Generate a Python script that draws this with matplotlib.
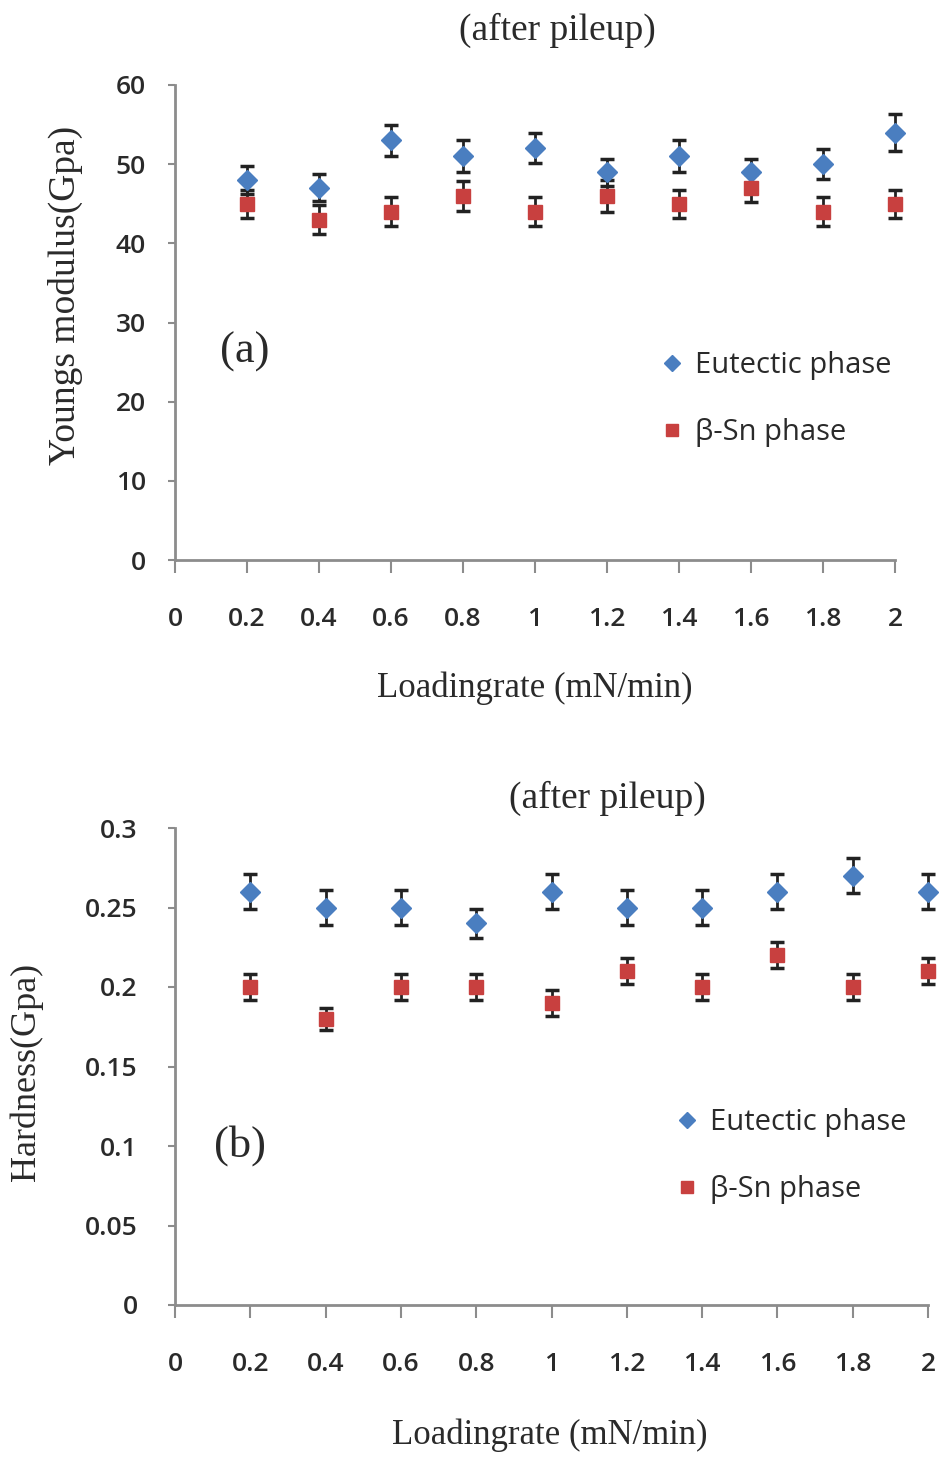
import matplotlib
matplotlib.use("Agg")
import matplotlib.pyplot as plt

# loading rate (mN/min)
rate = [0.2, 0.4, 0.6, 0.8, 1.0, 1.2, 1.4, 1.6, 1.8, 2.0]
xticks = [0, 0.2, 0.4, 0.6, 0.8, 1, 1.2, 1.4, 1.6, 1.8, 2]
xtick_labels = ["0", "0.2", "0.4", "0.6", "0.8", "1", "1.2", "1.4", "1.6", "1.8", "2"]

# (a) Young's modulus, GPa
modulus_eutectic = [48, 47, 53, 51, 52, 49, 51, 49, 50, 54]
modulus_eutectic_err = [1.8, 1.7, 2.0, 2.0, 1.9, 1.7, 2.0, 1.7, 1.9, 2.3]
modulus_sn = [45, 43, 44, 46, 44, 46, 45, 47, 44, 45]
modulus_sn_err = [1.8, 1.8, 1.8, 1.9, 1.8, 2.0, 1.8, 1.8, 1.8, 1.8]

# (b) hardness, GPa
hardness_eutectic = [0.26, 0.25, 0.25, 0.24, 0.26, 0.25, 0.25, 0.26, 0.27, 0.26]
hardness_eutectic_err = [0.011, 0.011, 0.011, 0.009, 0.011, 0.011, 0.011, 0.011, 0.011, 0.011]
hardness_sn = [0.20, 0.18, 0.20, 0.20, 0.19, 0.21, 0.20, 0.22, 0.20, 0.21]
hardness_sn_err = [0.008, 0.007, 0.008, 0.008, 0.008, 0.008, 0.008, 0.008, 0.008, 0.008]

BLUE = "#4a7ec0"
RED = "#c8403f"
GREY = "#8c8c8c"
SERIF = "Liberation Serif"
SANS = "Open Sans"
TXT = "#2a2a2a"

W, H = 942, 1458
fig = plt.figure(figsize=(W / 100, H / 100), dpi=100)


def style_axis(ax, ymax, ystep, yfmt, ypad):
    for side in ("top", "right"):
        ax.spines[side].set_visible(False)
    for side in ("left", "bottom"):
        ax.spines[side].set_color(GREY)
        ax.spines[side].set_linewidth(2)
    ax.set_xlim(0, 2)
    ax.set_ylim(0, ymax)
    ax.set_xticks(xticks)
    ax.set_xticklabels(xtick_labels, family=SANS, fontsize=19, weight="semibold", color=TXT)
    yt = [i * ystep for i in range(int(round(ymax / ystep)) + 1)]
    ax.set_yticks(yt)
    ax.set_yticklabels([yfmt(v) for v in yt], family=SANS, fontsize=19, weight="semibold", color=TXT)
    ax.tick_params(axis="x", direction="out", length=9, width=1.5, color=GREY, pad=25)
    ax.tick_params(axis="y", direction="out", length=5, width=1.5, color=GREY, pad=ypad)


def draw_panel(ax, eu, eu_err, sn, sn_err):
    ax.errorbar(rate, eu, yerr=eu_err, fmt="D", color=BLUE, ms=10, mec=BLUE,
                ecolor="#222222", elinewidth=2, capsize=5, capthick=2.5,
                label="Eutectic phase", clip_on=False, zorder=3)
    ax.errorbar(rate, sn, yerr=sn_err, fmt="s", color=RED, ms=10, mec=RED,
                ecolor="#222222", elinewidth=2, capsize=5, capthick=2.5,
                label="β-Sn phase", clip_on=False, zorder=3)


def add_legend(ax, x, y):
    h, l = ax.get_legend_handles_labels()
    ax.legend([e[0] for e in h], l, loc="center left", bbox_to_anchor=(x, y),
              frameon=False, prop={"family": SANS, "size": 21}, labelcolor=TXT,
              borderpad=0, borderaxespad=0, handletextpad=0.3, handlelength=1.0,
              labelspacing=1.3, markerscale=0.8)


# ---- (a) ----
ax1 = fig.add_axes([175 / W, 1 - 560 / H, 720 / W, 475 / H])
draw_panel(ax1, modulus_eutectic, modulus_eutectic_err, modulus_sn, modulus_sn_err)
style_axis(ax1, 60, 10, lambda v: f"{v:g}", 16)
fig.text(535 / W, 1 - 688 / H, "Loadingrate (mN/min)", family=SERIF, fontsize=25,
         color=TXT, ha="center", va="center")
fig.text(65 / W, 1 - 295 / H, "Youngs modulus(Gpa)", family=SERIF, fontsize=27,
         color=TXT, ha="center", va="center", rotation=90)
fig.text(557 / W, 1 - 30 / H, "(after pileup)", family=SERIF, fontsize=27,
         color=TXT, ha="center", va="center")
ax1.text(0.097, 0.438, "(a)", transform=ax1.transAxes, family=SERIF, fontsize=32,
         color=TXT, ha="center", va="center")
add_legend(ax1, 0.670, 0.338)

# ---- (b) ----
ax2 = fig.add_axes([175 / W, 1 - 1305 / H, 753 / W, 477 / H])
draw_panel(ax2, hardness_eutectic, hardness_eutectic_err, hardness_sn, hardness_sn_err)
style_axis(ax2, 0.3, 0.05, lambda v: f"{v:.2f}".rstrip("0").rstrip(".") if v else "0", 22)
fig.text(550 / W, 1 - 1435 / H, "Loadingrate (mN/min)", family=SERIF, fontsize=25,
         color=TXT, ha="center", va="center")
fig.text(26 / W, 1 - 1072 / H, "Hardness(Gpa)", family=SERIF, fontsize=26,
         color=TXT, ha="center", va="center", rotation=90)
fig.text(607 / W, 1 - 798 / H, "(after pileup)", family=SERIF, fontsize=27,
         color=TXT, ha="center", va="center")
ax2.text(0.086, 0.335, "(b)", transform=ax2.transAxes, family=SERIF, fontsize=32,
         color=TXT, ha="center", va="center")
add_legend(ax2, 0.660, 0.312)

fig.savefig("out.png", dpi=100)
